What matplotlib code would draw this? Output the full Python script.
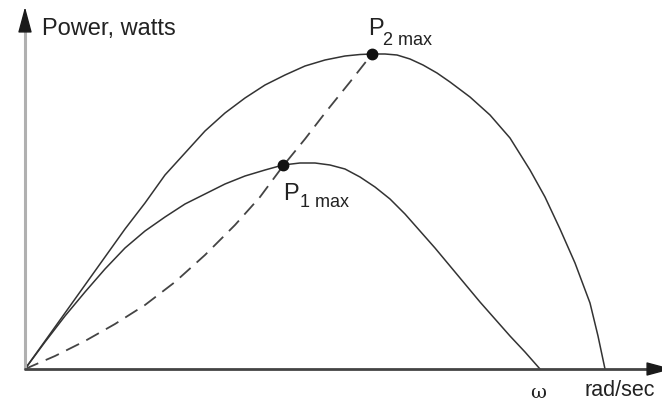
import matplotlib.pyplot as plt

plt.rcParams['font.family'] = ['Liberation Sans', 'DejaVu Sans']

# --- curva de potência 1 (menor) ---
w1 = [0, 20, 40, 60, 80, 100, 120, 140, 160, 180, 200, 220, 240, 258, 275, 290,
      305, 320, 335, 350, 365, 380, 395, 410, 425, 440, 455, 470, 485, 500, 515]
p1 = [0, 27, 53, 77, 100, 121, 138, 152, 165, 175, 185, 193, 199, 204, 206, 206,
      204, 200, 192, 182, 170, 155, 138, 121, 103, 85, 67, 50, 33, 17, 0]

# --- curva de potência 2 (maior) ---
w2 = [0, 20, 40, 60, 80, 100, 120, 140, 160, 180, 200, 220, 240, 260, 280, 300,
      320, 335, 347, 360, 372, 385, 398, 412, 425, 445, 465, 485, 505, 520, 535,
      550, 565, 573, 580]
p2 = [0, 28, 56, 84, 112, 140, 166, 194, 216, 238, 256, 271, 284, 294, 303, 309,
      313, 314.5, 315, 315, 314, 310, 304, 296, 287, 272, 254, 231, 199, 172, 140,
      106, 66, 33, 0]

# --- lugar dos pontos de potência máxima (tracejado) ---
wd = [0, 30, 60, 90, 120, 150, 180, 210, 235, 258, 280, 300, 325, 347]
pd = [0, 13, 28, 45, 64, 87, 114, 144, 172, 203, 230, 256, 287, 315]

# --- pontos máximos ---
w_max = [258, 347]
p_max = [204, 315]

fig = plt.figure(figsize=(6.62, 4.02), dpi=100)
ax = fig.add_axes([0, 0, 1, 1])
ax.set_xlim(-25, 637)
ax.set_ylim(-32, 370)
ax.axis('off')

ax.plot(w1, p1, color='#333333', lw=1.1)
ax.plot(w2, p2, color='#333333', lw=1.1)
ax.plot(wd, pd, color='#444444', lw=1.3, dashes=(8, 4.5))
ax.plot(w_max, p_max, 'o', color='#111111', ms=7.5, zorder=5)

# eixos com setas
ax.plot([0, 0], [0, 342], color='#b0b0b0', lw=2.2, solid_capstyle='butt')
ax.annotate('', xy=(0, 362), xytext=(0, 340), annotation_clip=False,
            arrowprops=dict(arrowstyle='-|>,head_length=1.6,head_width=0.43',
                            color='#1a1a1a', lw=1, mutation_scale=10,
                            shrinkA=0, shrinkB=0))
ax.plot([-1, 627], [0, 0], color='#444444', lw=2, solid_capstyle='butt')
ax.annotate('', xy=(647, 0), xytext=(625, 0), annotation_clip=False,
            arrowprops=dict(arrowstyle='-|>,head_length=1.6,head_width=0.43',
                            color='#1a1a1a', lw=1, mutation_scale=10,
                            shrinkA=0, shrinkB=0))

ax.text(17, 335, 'Power, watts', fontsize=17, color='#222222', va='baseline')
ax.text(343, 335, 'P', fontsize=17, color='#222222', va='baseline')
ax.text(358, 325, '2 max', fontsize=13, color='#222222', va='baseline')
ax.text(258, 170, 'P', fontsize=17, color='#222222', va='baseline')
ax.text(275, 163, '1 max', fontsize=13, color='#222222', va='baseline')
ax.text(505, -23, 'ω', fontsize=14, color='#222222', va='center',
        family='DejaVu Serif')
ax.text(559, -26, 'rad/sec', fontsize=15.5, color='#222222', va='baseline')

fig.savefig('out.png', dpi=100)
